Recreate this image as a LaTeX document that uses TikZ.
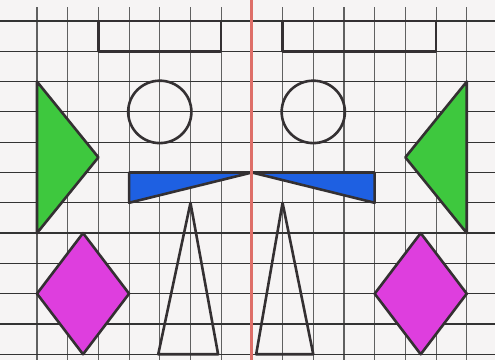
\documentclass[tikz,border=0pt]{standalone}
\definecolor{paper}{RGB}{246,244,244}
\definecolor{ink}{RGB}{52,48,50}
\definecolor{leaf}{RGB}{62,200,62}
\definecolor{sea}{RGB}{30,96,226}
\definecolor{plum}{RGB}{222,62,222}
\definecolor{mirror}{RGB}{222,110,104}

\begin{document}
\begin{tikzpicture}[x=1cm,y=-0.987cm,
 gridv/.style={draw=gray!75!black,line width=1pt},
 gridh/.style={draw=black!80,line width=1.1pt},
 outline/.style={draw=ink,line width=2.4pt,line join=round},
 green tri/.style={outline,fill=leaf},
 blue tri/.style={outline,fill=sea},
 rhombus/.style={outline,fill=plum},
 axis/.style={draw=mirror,line width=2.6pt}]
\fill[paper] (-0.205,-0.693) rectangle (15.92,11.19);
\useasboundingbox (-0.205,-0.693) rectangle (15.92,11.19);
% squared paper
\foreach \u in {1,...,15}
  \draw[gridv] (\u,-0.46)--(\u,11.19);
\foreach \v in {0,...,11}
  \draw[gridh] (-0.205,\v)--(15.92,\v);
% left half
\draw[outline] (3,0) rectangle (7,1);
\draw[outline] (5,3) circle (1.03);
\draw[green tri] (1,2)--(3,4.5)--(1,7)--cycle;
\draw[blue tri] (4,5)--(8,5)--(4,6)--cycle;
\draw[outline] (6,6)--(6.9,11)--(4.95,11)--cycle;
\draw[rhombus] (2.5,7)--(4,9)--(2.5,11)--(1,9)--cycle;
% right half
\draw[outline] (9,0) rectangle (14,1);
\draw[outline] (10,3) circle (1.03);
\draw[green tri] (15,2)--(13,4.5)--(15,7)--cycle;
\draw[blue tri] (8,5)--(12,5)--(12,6)--cycle;
\draw[outline] (9,6)--(10,11)--(8.14,11)--cycle;
\draw[rhombus] (13.5,7)--(15,9)--(13.5,11)--(12,9)--cycle;
% mirror line
\draw[axis] (8,-0.693)--(8,11.19);
\end{tikzpicture}
\end{document}
